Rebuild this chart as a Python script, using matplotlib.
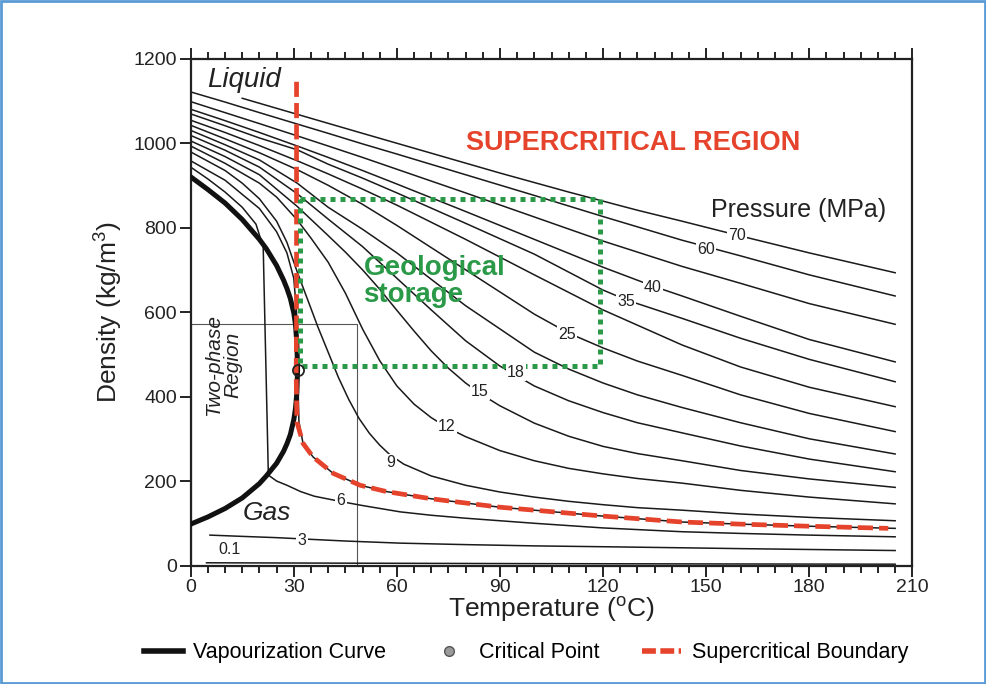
import numpy as np
import matplotlib.pyplot as plt
from matplotlib.lines import Line2D
from matplotlib.patches import Rectangle

plt.rcParams['font.family'] = ['Liberation Sans', 'DejaVu Sans']

# --- data (temperature in C, density in kg/m3) ---
T70 = [15, 31, 50, 70, 90, 110, 130, 143, 160, 180, 205]
D70 = [1106, 1068, 1023, 976, 929, 884, 841, 815, 780, 740, 693]

T_hi = [0, 10, 20, 31, 40, 50, 60, 80, 100, 120, 143, 160, 180, 205]
D60 = [1121, 1097, 1072, 1045, 1023, 998, 974, 925, 876, 826, 770, 733, 688, 638]
D50 = [1098, 1072, 1046, 1017, 993, 966, 938, 882, 825, 768, 708, 668, 620, 571]
D30 = [1054, 1025, 994, 958, 927, 891, 853, 772, 688, 605, 522, 470, 422, 376]

T40 = [0, 10, 20, 31, 40, 50, 60, 80, 100, 120, 135, 143, 160, 180, 205]
D40 = [1080, 1053, 1025, 993, 966, 935, 903, 838, 772, 706, 660, 638, 590, 535, 482]

T35 = [0, 10, 20, 31, 40, 50, 60, 80, 100, 120, 127, 143, 160, 180, 205]
D35 = [1069, 1041, 1012, 984, 950, 917, 882, 810, 737, 652, 628, 585, 538, 488, 435]

T25 = [0, 10, 20, 31, 40, 50, 60, 80, 100, 110, 120, 130, 143, 160, 180, 205]
D25 = [1042, 1010, 977, 937, 900, 855, 805, 700, 595, 550, 515, 484, 450, 404, 360, 317]

T21 = [0, 10, 20, 31, 40, 50, 60, 80, 100, 110, 120, 130, 143, 160, 180, 205]
D21 = [1030, 996, 960, 905, 848, 796, 740, 615, 505, 465, 432, 404, 374, 338, 300, 264]

T18 = [0, 10, 20, 31, 40, 50, 60, 70, 80, 90, 100, 110, 120, 130, 143, 160, 180, 205]
D18 = [1018, 983, 943, 880, 820, 755, 680, 605, 532, 472, 425, 390, 362, 338, 314, 283, 252, 222]

T15 = [0, 10, 20, 31, 40, 45, 50, 55, 60, 65, 70, 75, 80, 85, 90, 100, 110, 120, 130, 143, 160, 180, 205]
D15 = [1005, 968, 925, 850, 781, 742, 700, 654, 604, 555, 508, 467, 432, 403, 378, 337, 306, 282,
       265, 248, 225, 205, 185]

T12 = [0, 10, 20, 25, 31, 35, 40, 45, 50, 55, 60, 65, 70, 75, 80, 90, 100, 110, 120, 130, 143, 160,
       180, 205]
D12 = [993, 952, 905, 872, 818, 775, 718, 645, 560, 485, 425, 382, 350, 325, 305, 272, 248, 230, 217,
       206, 195, 178, 162, 146]

T9 = [0, 10, 15, 20, 25, 28, 31, 34, 37, 40, 43, 46, 49, 52, 55, 58, 62, 70, 80, 90, 100, 110, 120,
      130, 143, 160, 180, 205]
D9 = [979, 935, 905, 868, 815, 765, 695, 630, 565, 505, 445, 393, 348, 313, 285, 262, 240, 212, 190,
      174, 162, 152, 144, 137, 131, 122, 114, 106]

T7 = [0, 10, 20, 25, 28, 30, 30.8, 31.1, 31.5, 32.7, 35.6, 41.5, 49.3, 57, 70, 90, 120, 143, 160, 180, 205]
D7 = [958, 912, 845, 790, 740, 680, 600, 467, 340, 289, 257, 218, 190, 175, 158, 138, 117, 103, 98, 93, 88]

T6 = [0, 5, 10, 15, 19, 21.1, 22.6, 25, 28, 32, 36, 44, 50, 61, 70, 80, 100, 120, 143, 160, 180, 205]
D6 = [943, 915, 884, 848, 808, 754, 214, 200, 190, 175, 164, 151, 142, 127, 119, 112, 100, 89, 80, 76, 72, 68]

T3 = [5.6, 15, 25, 32.4, 45, 61, 80, 100, 120, 143, 160, 180, 205]
D3 = [72, 69, 66, 63, 58, 53, 49.5, 46.5, 44.5, 42, 40, 38, 35.5]

T01 = [4.6, 50, 100, 150, 205]
D01 = [6.5, 5.5, 4.5, 3.8, 3.2]

# vaporization curve (liquid and vapour branches meet at the critical point)
T_sat = [0, 5, 10, 15, 20, 22, 25, 27, 28, 29, 30, 30.5, 30.9, 31.1]
D_liq = [920, 890, 858, 819, 772, 750, 710, 676, 656, 632, 598, 570, 525, 463]
D_vap = [98, 115, 135, 160, 194, 212, 242, 270, 288, 310, 345, 372, 410, 463]

# supercritical boundary
T_sc = [30.8, 30.8, 30.7, 30.9, 32.7, 35.6, 41.5, 49.3, 57, 70, 90, 120, 143, 160, 180, 203]
D_sc = [1145, 600, 450, 340, 289, 257, 218, 190, 175, 158, 138, 117, 103, 98, 93, 88]

crit_T, crit_D = 31.1, 463

# pressure labels sitting on the curves
lab_text = ['3', '6', '9', '12', '15', '18', '25', '35', '40', '60', '70']
lab_T = [32.4, 43.7, 58.3, 74.6, 84.2, 94.7, 109.5, 126.7, 134.5, 150, 159]
lab_D = [60, 153, 243, 328, 413, 458, 548, 624, 659, 749, 780]

storage_T = [31.7, 119]
storage_D = [473, 868]

fig = plt.figure(figsize=(9.86, 6.84), dpi=100)
ax = fig.add_axes([0.1934, 0.1732, 0.7319, 0.7412])

line_kw = dict(color='#1a1a1a', lw=1.1, zorder=2)
ax.plot(T70, D70, **line_kw)
ax.plot(T_hi, D60, **line_kw)
ax.plot(T_hi, D50, **line_kw)
ax.plot(T40, D40, **line_kw)
ax.plot(T35, D35, **line_kw)
ax.plot(T_hi, D30, **line_kw)
ax.plot(T25, D25, **line_kw)
ax.plot(T21, D21, **line_kw)
ax.plot(T18, D18, **line_kw)
ax.plot(T15, D15, **line_kw)
ax.plot(T12, D12, **line_kw)
ax.plot(T9, D9, **line_kw)
ax.plot(T7, D7, **line_kw)
ax.plot(T6, D6, **line_kw)
ax.plot(T3, D3, **line_kw)
ax.plot(T01, D01, **line_kw)

# thin box round the two-phase region
ax.add_patch(Rectangle((0, 0), 48.4, 572, fill=False, edgecolor='#555555', lw=0.8, zorder=1))

ax.plot(T_sat, D_liq, color='#111111', lw=3.6, solid_capstyle='round', zorder=3)
ax.plot(T_sat, D_vap, color='#111111', lw=3.6, solid_capstyle='round', zorder=3)

ax.plot(T_sc, D_sc, color='#e5432c', lw=3.4, linestyle=(0, (3.2, 1.3)), zorder=4)

ax.plot(crit_T, crit_D, 'o', ms=8, mfc='none', mec='#222222', mew=1.3, zorder=5)

# geological storage box
gx = [storage_T[0], storage_T[1], storage_T[1], storage_T[0], storage_T[0]]
gy = [storage_D[1], storage_D[1], storage_D[0], storage_D[0], storage_D[1]]
ax.plot(gx, gy, color='#2a9a48', lw=3.6, linestyle=(0, (1, 1)), zorder=4)

for s, t, d in zip(lab_text, lab_T, lab_D):
    ax.text(t, d, s, fontsize=11.5, ha='center', va='center', color='#222222', zorder=6,
            bbox=dict(boxstyle='square,pad=0.08', fc='white', ec='none'))
ax.text(11.4, 37, '0.1', fontsize=11.5, ha='center', va='center', color='#222222')

ax.text(15.5, 1150, 'Liquid', fontsize=20, style='italic', ha='center', va='center', color='#222222')
ax.text(22.2, 124, 'Gas', fontsize=19, style='italic', ha='center', va='center', color='#222222')
ax.text(9.5, 474, 'Two-phase\nRegion', fontsize=15, style='italic', ha='center', va='center',
        rotation=90, linespacing=1.0, color='#222222')
ax.text(128.7, 1000, 'SUPERCRITICAL REGION', fontsize=19.5, fontweight='bold', ha='center',
        va='center', color='#e5432c')
ax.text(50.3, 673, 'Geological\nstorage', fontsize=20, fontweight='bold', ha='left',
        va='center', linespacing=1.05, color='#2a9a48')
ax.text(177, 841, 'Pressure (MPa)', fontsize=18, ha='center', va='center', color='#222222')

ax.set_xlim(0, 210)
ax.set_ylim(0, 1200)
ax.set_xticks(np.arange(0, 211, 30))
ax.set_xticks(np.arange(0, 211, 5), minor=True)
ax.set_yticks(np.arange(0, 1201, 200))
ax.tick_params(which='both', direction='out', top=True, right=False, labeltop=False,
               width=1.4, color='#222222', labelsize=14, labelcolor='#222222')
ax.tick_params(which='major', length=8, pad=2)
ax.tick_params(which='minor', length=5)
for sp in ax.spines.values():
    sp.set_linewidth(1.6)
    sp.set_color('#222222')

ax.set_xlabel('Temperature ($\\mathregular{^{o}}$C)', fontsize=19, color='#222222', labelpad=-1)
ax.set_ylabel('Density (kg/m$\\mathregular{^{3}}$)', fontsize=19, color='#222222', labelpad=6)

handles = [
    Line2D([], [], color='#111111', lw=4),
    Line2D([], [], ls='none', marker='o', ms=7, mfc='#9a9a9a', mec='#555555'),
    Line2D([], [], color='#e5432c', lw=4, linestyle=(0, (2.5, 0.8))),
]
labels = ['Vapourization Curve', 'Critical Point', 'Supercritical Boundary']
fig.legend(handles, labels, loc='center', bbox_to_anchor=(0.5335, 0.046), ncol=3,
           frameon=False, fontsize=15.5, handlelength=1.8, handletextpad=0.5, columnspacing=2.0)

fig.patches.append(Rectangle((0.001, 0.0015), 0.998, 0.997, transform=fig.transFigure,
                             fill=False, edgecolor='#5b9bd5', lw=2))

fig.savefig('out.png', dpi=100)
